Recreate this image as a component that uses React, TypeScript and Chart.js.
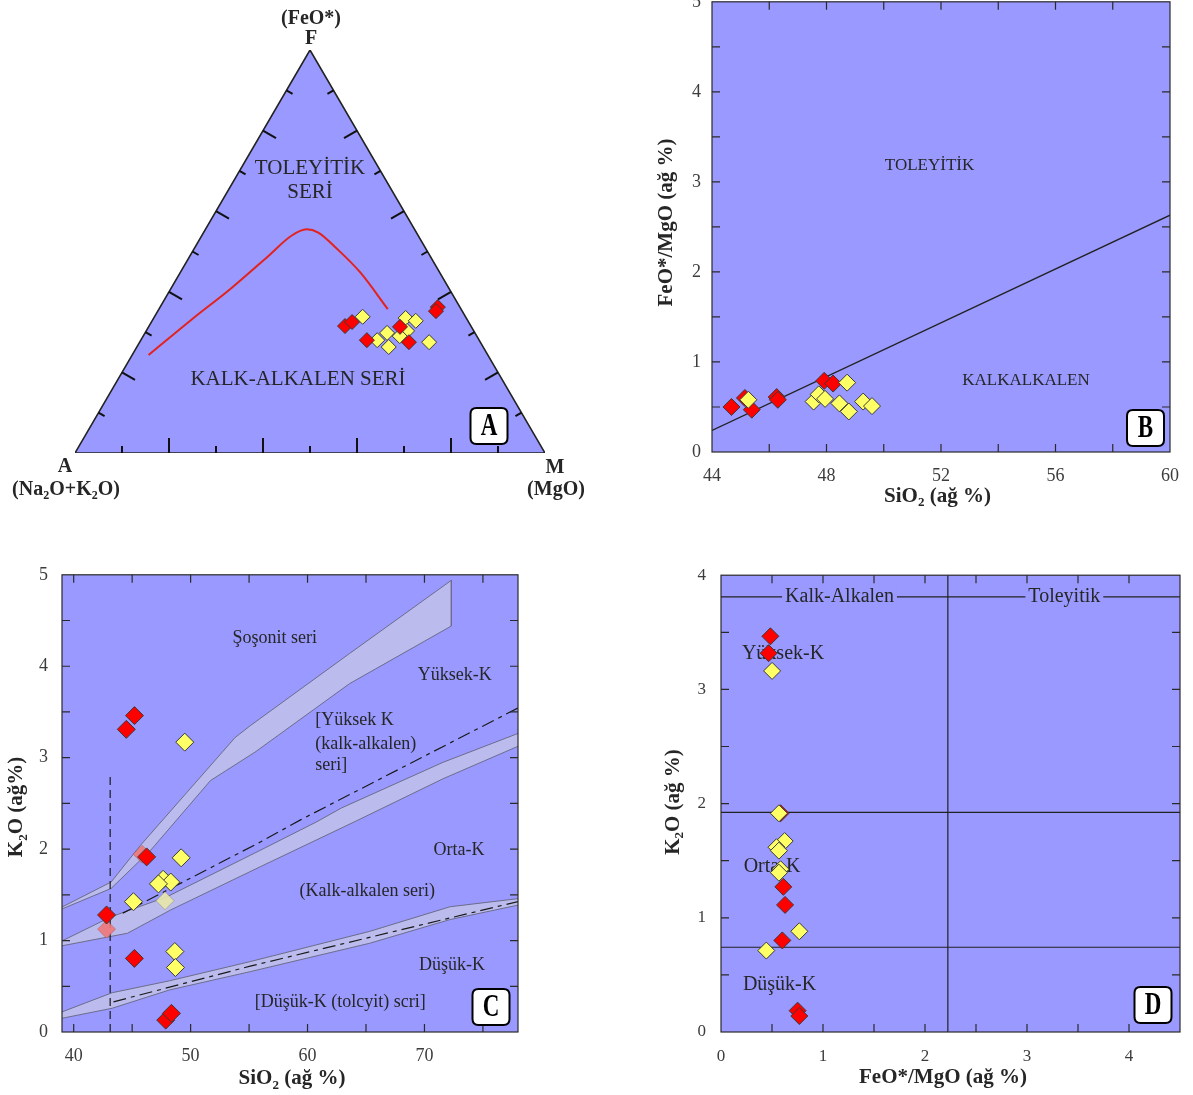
import React, { useEffect, useRef } from "react";
import { Chart, registerables } from "chart.js";

Chart.register(...registerables);

const SERIF = '"Liberation Serif", "Times New Roman", serif';
const PLOT_BG = "#9999FF";
const BAND_FILL = "#BBBBEE";
const BAND_EDGE = "#6C6C8C";
const RED = "#FF0000";
const YELLOW = "#FFFF66";
const FADED_RED = "rgba(240,120,120,0.9)";
const FADED_YELLOW = "rgba(232,232,170,0.9)";
const INK = "#262626";
const TICK_TEXT = "#3c3c3c";

// ---------- Panel A : AFM ternary, each entry [A, F, M] in % ----------
const afmVertices = [
  [100, 0, 0],
  [0, 100, 0],
  [0, 0, 100],
];
const afmTickValues = [10, 20, 30, 40, 50, 60, 70, 80, 90];
const afmBoundary = [
  [72.2, 24.3, 3.5],
  [58.5, 33.2, 8.3],
  [46.6, 40.7, 12.7],
  [34.4, 48.9, 16.7],
  [27.0, 53.9, 19.1],
  [23.0, 55.5, 21.5],
  [20.9, 54.7, 24.4],
  [18.9, 50.6, 30.5],
  [16.9, 44.8, 38.3],
  [15.6, 35.7, 48.7],
];
const afmRed = [
  [26.8, 31.5, 41.7],
  [24.8, 32.5, 42.7],
  [23.9, 28.0, 48.1],
  [15.2, 31.3, 53.5],
  [15.2, 27.5, 57.3],
  [4.7, 36.2, 59.1],
  [5.6, 35.2, 59.2],
];
const afmYellow = [
  [21.9, 33.8, 44.3],
  [21.7, 28.0, 50.3],
  [18.7, 29.8, 51.5],
  [20.1, 26.3, 53.6],
  [12.9, 33.5, 53.6],
  [11.1, 32.8, 56.1],
  [14.2, 30.3, 55.5],
  [16.4, 29.0, 54.6],
  [10.9, 27.5, 61.6],
];

// ---------- Panel B : FeO*/MgO vs SiO2 ----------
const bRedSiO2 = [44.68, 45.15, 45.39, 46.26, 46.3, 47.92, 48.23];
const bRedRatio = [0.5, 0.6, 0.47, 0.61, 0.58, 0.79, 0.76];
const bYellowSiO2 = [45.27, 47.55, 47.73, 47.95, 48.45, 48.72, 48.78, 49.28, 49.59];
const bYellowRatio = [0.58, 0.56, 0.64, 0.59, 0.54, 0.77, 0.45, 0.56, 0.51];
const bDividerSiO2 = [44, 60];
const bDividerRatio = [0.24, 2.63];

// ---------- Panel C : K2O vs SiO2 ----------
const cShoUpperSiO2 = [38.9, 43.2, 45.7, 53.8, 55.1, 63.6, 72.3];
const cShoUpperK2O = [1.36, 1.64, 2.04, 3.22, 3.35, 4.14, 4.94];
const cShoLowerSiO2 = [72.3, 63.6, 55.5, 51.7, 46.6, 43.2, 38.9];
const cShoLowerK2O = [4.44, 3.81, 3.06, 2.75, 1.99, 1.57, 1.34];
const cMidUpperSiO2 = [38.9, 43.2, 48.0, 56.0, 60.8, 62.9, 71.6, 78.1];
const cMidUpperK2O = [0.99, 1.26, 1.48, 1.99, 2.3, 2.45, 2.95, 3.27];
const cMidLowerSiO2 = [78.1, 71.6, 64.2, 56.0, 48.3, 44.6, 38.9];
const cMidLowerK2O = [3.13, 2.77, 2.31, 1.81, 1.335, 1.08, 0.94];
const cLowUpperSiO2 = [39.0, 43.3, 48.2, 55.1, 65.3, 72.2, 78.1];
const cLowUpperK2O = [0.22, 0.43, 0.56, 0.77, 1.1, 1.37, 1.46];
const cLowLowerSiO2 = [78.1, 72.2, 65.3, 55.1, 48.2, 43.3, 39.0];
const cLowLowerK2O = [1.39, 1.23, 0.97, 0.66, 0.46, 0.26, 0.15];
const cHighDashSiO2 = [44.2, 56.0, 59.4, 78.1];
const cHighDashK2O = [1.3, 2.08, 2.32, 3.55];
const cLowDashSiO2 = [43.4, 55.1, 78.1];
const cLowDashK2O = [0.33, 0.72, 1.43];
const cVertDashSiO2 = [43.12, 43.12];
const cVertDashK2O = [0, 2.79];
const cRedSiO2 = [45.2, 44.5, 46.24, 42.81, 45.19, 47.87, 48.36];
const cRedK2O = [3.46, 3.31, 1.915, 1.28, 0.805, 0.13, 0.204];
const cYellowSiO2 = [49.5, 49.19, 47.65, 48.3, 47.25, 45.11, 48.65, 48.7];
const cYellowK2O = [3.17, 1.905, 1.67, 1.64, 1.62, 1.425, 0.88, 0.705];
const cFadedRedSiO2 = [42.81, 45.85];
const cFadedRedK2O = [1.125, 1.945];
const cFadedYellowSiO2 = [47.81];
const cFadedYellowK2O = [1.436];

// ---------- Panel D : K2O vs FeO*/MgO ----------
const dRedRatio = [0.484, 0.467, 0.584, 0.611, 0.628, 0.601, 0.751, 0.768];
const dRedK2O = [3.465, 3.317, 1.915, 1.271, 1.113, 0.802, 0.187, 0.14];
const dYellowRatio = [0.501, 0.568, 0.624, 0.544, 0.568, 0.584, 0.568, 0.768, 0.444];
const dYellowK2O = [3.162, 1.915, 1.672, 1.618, 1.588, 1.425, 1.395, 0.882, 0.713];
const dSeriesDivide = 2.224;
const dHighMedK = 1.924;
const dMedLowK = 0.742;
const dHeaderK = 3.81;

type Pt = { x: number; y: number };
const zip = (xs: number[], ys: number[]): Pt[] => xs.map((x, i) => ({ x, y: ys[i] }));
const H = Math.sqrt(3) / 2;
const afmToXY = (afm: number[]): Pt => ({ x: afm[2] + afm[1] / 2, y: afm[1] * H });

type Label = {
  text: string;
  x: number;
  y: number;
  size: number;
  bold?: boolean;
  align?: "left" | "center" | "right";
  rot?: number;
  px?: boolean;
  bg?: boolean;
  under?: boolean;
  color?: string;
};

function parseRich(text: string) {
  const segs: { s: string; sub: boolean }[] = [];
  for (let i = 0; i < text.length; i++) {
    const c = text[i];
    if (c === "_" && i + 1 < text.length) {
      segs.push({ s: text[i + 1], sub: true });
      i++;
    } else {
      const last = segs[segs.length - 1];
      if (last && !last.sub) last.s += c;
      else segs.push({ s: c, sub: false });
    }
  }
  return segs;
}

function drawRich(ctx: CanvasRenderingContext2D, l: Label, x: number, y: number) {
  const segs = parseRich(l.text);
  const w = l.bold ? "bold " : "";
  const mainFont = `${w}${l.size}px ${SERIF}`;
  const subFont = `${w}${Math.round(l.size * 0.62)}px ${SERIF}`;
  ctx.save();
  ctx.translate(x, y);
  ctx.rotate(l.rot || 0);
  let total = 0;
  const widths = segs.map((sg) => {
    ctx.font = sg.sub ? subFont : mainFont;
    const m = ctx.measureText(sg.s).width;
    total += m;
    return m;
  });
  const align = l.align || "center";
  let cx = align === "center" ? -total / 2 : align === "right" ? -total : 0;
  if (l.bg) {
    ctx.fillStyle = PLOT_BG;
    ctx.fillRect(cx - 3, -l.size * 0.6, total + 6, l.size * 1.2);
  }
  ctx.textBaseline = "middle";
  ctx.textAlign = "left";
  ctx.fillStyle = l.color || INK;
  segs.forEach((sg, i) => {
    ctx.font = sg.sub ? subFont : mainFont;
    ctx.fillText(sg.s, cx, sg.sub ? l.size * 0.3 : 0);
    cx += widths[i];
  });
  ctx.restore();
}

function drawBox(ctx: CanvasRenderingContext2D, letter: string, cx: number, cy: number) {
  const w = 37,
    h = 36,
    r = 6;
  const x0 = cx - w / 2,
    y0 = cy - h / 2;
  ctx.save();
  ctx.beginPath();
  ctx.moveTo(x0 + r, y0);
  ctx.lineTo(x0 + w - r, y0);
  ctx.quadraticCurveTo(x0 + w, y0, x0 + w, y0 + r);
  ctx.lineTo(x0 + w, y0 + h - r);
  ctx.quadraticCurveTo(x0 + w, y0 + h, x0 + w - r, y0 + h);
  ctx.lineTo(x0 + r, y0 + h);
  ctx.quadraticCurveTo(x0, y0 + h, x0, y0 + h - r);
  ctx.lineTo(x0, y0 + r);
  ctx.quadraticCurveTo(x0, y0, x0 + r, y0);
  ctx.closePath();
  ctx.fillStyle = "#ffffff";
  ctx.fill();
  ctx.lineWidth = 2;
  ctx.strokeStyle = "#000";
  ctx.stroke();
  ctx.translate(cx, cy + 1);
  ctx.scale(0.72, 1);
  ctx.font = `bold 32px ${SERIF}`;
  ctx.textAlign = "center";
  ctx.textBaseline = "middle";
  ctx.fillStyle = "#000";
  ctx.fillText(letter, 0, 0);
  ctx.restore();
}

type OverlayOpts = {
  plotBg?: boolean;
  frame?: boolean;
  xStep?: number;
  yStep?: number;
  tickLen?: number;
  labels?: Label[];
  box?: { letter: string; x: number; y: number };
  ternary?: boolean;
};

function overlay(o: OverlayOpts) {
  const drawLabels = (chart: any, under: boolean) => {
    for (const l of o.labels || []) {
      if (!!l.under !== under) continue;
      const px = l.px ? l.x : chart.scales.x.getPixelForValue(l.x);
      const py = l.px ? l.y : chart.scales.y.getPixelForValue(l.y);
      drawRich(chart.ctx, l, px, py);
    }
  };
  return {
    id: "overlay",
    beforeDatasetsDraw(chart: any) {
      const { ctx, chartArea: a } = chart;
      if (o.plotBg) {
        ctx.save();
        ctx.fillStyle = PLOT_BG;
        ctx.fillRect(a.left, a.top, a.right - a.left, a.bottom - a.top);
        ctx.restore();
      }
      drawLabels(chart, true);
    },
    afterDatasetsDraw(chart: any) {
      const { ctx, chartArea: a, scales } = chart;
      ctx.save();
      if (o.frame) {
        const len = o.tickLen || 8;
        ctx.strokeStyle = "#2a2a2a";
        ctx.lineWidth = 1.2;
        ctx.beginPath();
        if (o.xStep) {
          const sx = scales.x;
          for (let v = Math.ceil(sx.min / o.xStep) * o.xStep; v < sx.max - 1e-9; v += o.xStep) {
            if (v <= sx.min + 1e-9) continue;
            const p = sx.getPixelForValue(v);
            ctx.moveTo(p, a.bottom);
            ctx.lineTo(p, a.bottom - len);
            ctx.moveTo(p, a.top);
            ctx.lineTo(p, a.top + len);
          }
        }
        if (o.yStep) {
          const sy = scales.y;
          for (let v = Math.ceil(sy.min / o.yStep) * o.yStep; v < sy.max - 1e-9; v += o.yStep) {
            if (v <= sy.min + 1e-9) continue;
            const p = sy.getPixelForValue(v);
            ctx.moveTo(a.left, p);
            ctx.lineTo(a.left + len, p);
            ctx.moveTo(a.right, p);
            ctx.lineTo(a.right - len, p);
          }
        }
        ctx.stroke();
        ctx.strokeRect(a.left, a.top, a.right - a.left, a.bottom - a.top);
      }
      if (o.ternary) {
        const sx = scales.x,
          sy = scales.y;
        const P = (afm: number[]) => {
          const q = afmToXY(afm);
          return [sx.getPixelForValue(q.x), sy.getPixelForValue(q.y)];
        };
        ctx.strokeStyle = "#111";
        ctx.lineWidth = 2;
        ctx.beginPath();
        for (const t of afmTickValues) {
          const len = t % 20 === 0 ? 15 : 7;
          let [x, y] = P([100 - t, 0, t]);
          ctx.moveTo(x, y);
          ctx.lineTo(x, y - len);
          [x, y] = P([100 - t, t, 0]);
          ctx.moveTo(x, y);
          ctx.lineTo(x + len * 0.866, y + len * 0.5);
          [x, y] = P([0, t, 100 - t]);
          ctx.moveTo(x, y);
          ctx.lineTo(x - len * 0.866, y + len * 0.5);
        }
        ctx.stroke();
      }
      ctx.restore();
      drawLabels(chart, false);
      if (o.box) drawBox(ctx, o.box.letter, o.box.x, o.box.y);
    },
  };
}

const points = (data: Pt[], fill: string, r: number, order: number, edge = "#3a3a3a") => ({
  data,
  order,
  showLine: false,
  pointStyle: "rectRot",
  pointRadius: r,
  pointHoverRadius: r,
  pointBackgroundColor: fill,
  pointBorderColor: edge,
  pointBorderWidth: 1,
  borderColor: edge,
  backgroundColor: fill,
  clip: false,
});

const line = (data: Pt[], color: string, width: number, order: number, dash: number[] = [], smooth = false) => ({
  data,
  order,
  borderColor: color,
  borderWidth: width,
  borderDash: dash,
  pointRadius: 0,
  pointHoverRadius: 0,
  fill: false,
  tension: 0,
  cubicInterpolationMode: smooth ? "monotone" : "default",
});

const shape = (data: Pt[], fillColor: string, edge: string, width: number, order: number) => ({
  data,
  order,
  borderColor: edge,
  borderWidth: width,
  backgroundColor: fillColor,
  fill: "shape",
  pointRadius: 0,
  pointHoverRadius: 0,
  tension: 0,
});

function axis(min: number, max: number, step: number, padding: number, size: number, fontSize: number, horizontal: boolean) {
  return {
    type: "linear",
    min,
    max,
    position: horizontal ? "bottom" : "left",
    grid: { display: false, drawTicks: false, tickLength: 0 },
    border: { display: false },
    ticks: {
      stepSize: step,
      padding,
      includeBounds: false,
      autoSkip: false,
      maxRotation: 0,
      color: TICK_TEXT,
      font: { family: SERIF, size: fontSize },
    },
    afterFit: (s: any) => {
      if (horizontal) s.height = size;
      else s.width = size;
    },
  };
}

function baseOptions(padding: any, scales: any) {
  return {
    animation: false,
    responsive: false,
    maintainAspectRatio: false,
    events: [],
    layout: { padding },
    plugins: { legend: { display: false }, tooltip: { enabled: false }, title: { display: false } },
    scales,
  };
}

function configA() {
  const tri = [...afmVertices, afmVertices[0]].map(afmToXY);
  const labels: Label[] = [
    { text: "(FeO*)", x: 311, y: 19, size: 20, bold: true, px: true },
    { text: "F", x: 311, y: 39, size: 20, bold: true, px: true },
    { text: "A", x: 65, y: 467, size: 20, bold: true, px: true },
    { text: "(Na_2O+K_2O)", x: 66, y: 490, size: 20, bold: true, px: true },
    { text: "M", x: 555, y: 468, size: 20, bold: true, px: true },
    { text: "(MgO)", x: 556, y: 490, size: 20, bold: true, px: true },
    { text: "TOLEYİTİK", x: 310, y: 168, size: 21, px: true },
    { text: "SERİ", x: 310, y: 192, size: 21, px: true },
    { text: "KALK-ALKALEN SERİ", x: 298, y: 379, size: 21, px: true },
  ];
  return {
    type: "line",
    data: {
      datasets: [
        points(afmRed.map(afmToXY), RED, 7.5, 0),
        points(afmYellow.map(afmToXY), YELLOW, 7.5, 1),
        line(afmBoundary.map(afmToXY), "#E3221C", 2, 5, [], true),
        shape(tri, PLOT_BG, "#222", 1.6, 10),
      ],
    },
    options: baseOptions(
      { left: 75, right: 75, top: 50, bottom: 67 },
      {
        x: { type: "linear", min: 0, max: 100, display: false },
        y: { type: "linear", min: 0, max: 100 * H, display: false },
      }
    ),
    plugins: [overlay({ ternary: true, labels, box: { letter: "A", x: 489, y: 426 } })],
  };
}

function configB() {
  const labels: Label[] = [
    { text: "TOLEYİTİK", x: 51.6, y: 3.18, size: 17 },
    { text: "KALKALKALEN", x: 54.97, y: 0.79, size: 17 },
    { text: "SiO_2 (ağ %)", x: 297.5, y: 516.5, size: 21, bold: true, px: true },
    { text: "FeO*/MgO (ağ %)", x: 26.5, y: 242.5, size: 21, bold: true, px: true, rot: -Math.PI / 2 },
  ];
  return {
    type: "line",
    data: {
      datasets: [
        points(zip(bYellowSiO2, bYellowRatio), YELLOW, 8.5, 0),
        points(zip(bRedSiO2, bRedRatio), RED, 8.5, 1),
        line(zip(bDividerSiO2, bDividerRatio), "#222", 1.3, 5),
      ],
    },
    options: baseOptions(
      { left: 0, right: 23, top: 16, bottom: 0 },
      {
        x: axis(44, 60, 4, 13, 68, 18, true),
        y: axis(0, 5, 1, 11, 72, 18, false),
      }
    ),
    plugins: [overlay({ plotBg: true, frame: true, xStep: 2, yStep: 0.5, tickLen: 8, labels, box: { letter: "B", x: 505.5, y: 448 } })],
  };
}

function configC() {
  const labels: Label[] = [
    { text: "Şoşonit seri", x: 57.2, y: 4.31, size: 18 },
    { text: "Yüksek-K", x: 72.6, y: 3.9, size: 18 },
    { text: "[Yüksek K", x: 60.66, y: 3.41, size: 18, align: "left" },
    { text: "(kalk-alkalen)", x: 60.66, y: 3.15, size: 18, align: "left" },
    { text: "seri]", x: 60.66, y: 2.92, size: 18, align: "left" },
    { text: "Orta-K", x: 72.96, y: 1.99, size: 18 },
    { text: "(Kalk-alkalen seri)", x: 65.1, y: 1.54, size: 18 },
    { text: "Düşük-K", x: 72.36, y: 0.73, size: 18 },
    { text: "[Düşük-K (tolcyit) scri]", x: 62.8, y: 0.32, size: 18 },
    { text: "SiO_2 (ağ %)", x: 292, y: 529, size: 21, bold: true, px: true },
    { text: "K_2O (ağ%)", x: 17, y: 257, size: 21, bold: true, px: true, rot: -Math.PI / 2 },
  ];
  const shoBand = [...zip(cShoUpperSiO2, cShoUpperK2O), ...zip(cShoLowerSiO2, cShoLowerK2O)];
  const midBand = [...zip(cMidUpperSiO2, cMidUpperK2O), ...zip(cMidLowerSiO2, cMidLowerK2O)];
  const lowBand = [...zip(cLowUpperSiO2, cLowUpperK2O), ...zip(cLowLowerSiO2, cLowLowerK2O)];
  return {
    type: "line",
    data: {
      datasets: [
        points(zip(cFadedYellowSiO2, cFadedYellowK2O), FADED_YELLOW, 9, 0, "rgba(120,120,90,0.4)"),
        points(zip(cYellowSiO2, cYellowK2O), YELLOW, 9, 1),
        points(zip(cRedSiO2, cRedK2O), RED, 9, 2),
        points(zip(cFadedRedSiO2, cFadedRedK2O), FADED_RED, 9, 3, "rgba(120,60,60,0.3)"),
        line(zip(cHighDashSiO2, cHighDashK2O), "#1a1a1a", 1.2, 6, [13, 5, 4, 5]),
        line(zip(cLowDashSiO2, cLowDashK2O), "#1a1a1a", 1.2, 6, [13, 5, 4, 5]),
        line(zip(cVertDashSiO2, cVertDashK2O), "#1a1a1a", 1.2, 6, [8, 5]),
        shape(shoBand, BAND_FILL, BAND_EDGE, 1, 10),
        shape(midBand, BAND_FILL, BAND_EDGE, 1, 11),
        shape(lowBand, BAND_FILL, BAND_EDGE, 1, 12),
      ],
    },
    options: baseOptions(
      { left: 0, right: 22, top: 23, bottom: 0 },
      {
        x: axis(39, 78, 10, 13, 63, 18, true),
        y: axis(0, 5, 1, 14, 62, 18, false),
      }
    ),
    plugins: [overlay({ plotBg: true, frame: true, xStep: 5, yStep: 0.5, tickLen: 8, labels, box: { letter: "C", x: 491, y: 457 } })],
  };
}

function configD() {
  const labels: Label[] = [
    { text: "Kalk-Alkalen", x: 1.162, y: dHeaderK, size: 20, bg: true },
    { text: "Toleyitik", x: 3.366, y: dHeaderK, size: 20, bg: true },
    { text: "Yüksek-K", x: 0.608, y: 3.316, size: 20, under: true },
    { text: "Orta-K", x: 0.5, y: 1.449, size: 20, under: true },
    { text: "Düşük-K", x: 0.574, y: 0.416, size: 20, under: true },
    { text: "FeO*/MgO (ağ %)", x: 293, y: 528, size: 21, bold: true, px: true },
    { text: "K_2O (ağ %)", x: 23.5, y: 252, size: 21, bold: true, px: true, rot: -Math.PI / 2 },
  ];
  return {
    type: "line",
    data: {
      datasets: [
        points(zip(dYellowRatio, dYellowK2O), YELLOW, 8.5, 0),
        points(zip(dRedRatio, dRedK2O), RED, 8.5, 1),
        line(zip([dSeriesDivide, dSeriesDivide], [0, 4]), "#222", 1.2, 6),
        line(zip([0, 4.5], [dHighMedK, dHighMedK]), "#222", 1.2, 6),
        line(zip([0, 4.5], [dMedLowK, dMedLowK]), "#222", 1.2, 6),
        line(zip([0, 4.5], [dHeaderK, dHeaderK]), "#222", 1.2, 6),
      ],
    },
    options: baseOptions(
      { left: 0, right: 13, top: 23, bottom: 0 },
      {
        x: axis(0, 4.5, 1, 14, 63, 17, true),
        y: axis(0, 4, 1, 15, 71, 17, false),
      }
    ),
    plugins: [overlay({ plotBg: true, frame: true, xStep: 0.5, yStep: 0.5, tickLen: 8, labels, box: { letter: "D", x: 503, y: 455 } })],
  };
}

function ChartBox(props: { make: () => any; left: number; top: number; width: number; height: number }) {
  const ref = useRef<HTMLCanvasElement>(null);
  useEffect(() => {
    const chart = new Chart(ref.current as HTMLCanvasElement, props.make());
    return () => chart.destroy();
  }, []);
  return (
    <canvas
      ref={ref}
      width={props.width}
      height={props.height}
      style={{ position: "absolute", left: props.left, top: props.top, width: props.width, height: props.height }}
    />
  );
}

export default function App() {
  return (
    <div style={{ position: "absolute", left: 0, top: 0, width: 1193, height: 1095, overflow: "hidden", background: "#ffffff" }}>
      <ChartBox make={configA} left={0} top={0} width={620} height={520} />
      <ChartBox make={configB} left={640} top={-20} width={553} height={540} />
      <ChartBox make={configC} left={0} top={550} width={540} height={545} />
      <ChartBox make={configD} left={650} top={550} width={543} height={545} />
    </div>
  );
}
